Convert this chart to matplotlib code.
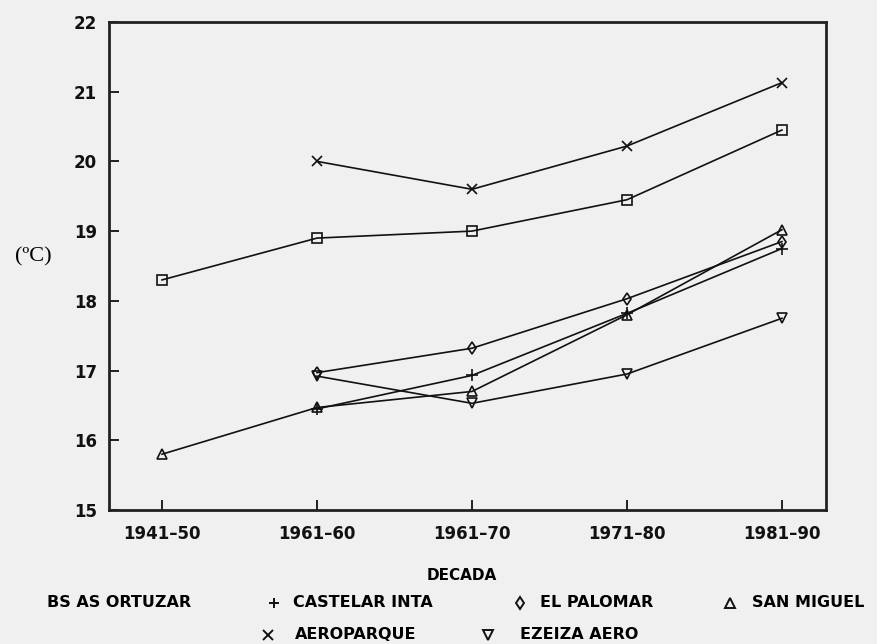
import numpy as np
import matplotlib
matplotlib.use("Agg")
import matplotlib.pyplot as plt
from matplotlib.lines import Line2D

decades = ["1941–50", "1961–60", "1961–70", "1971–80", "1981–90"]

# mean temperature per station (ºC), nan where the station had no record
bs_as_ortuzar = [18.3, 18.9, 19.0, 19.45, 20.45]
castelar_inta = [np.nan, 16.45, 16.93, 17.82, 18.75]
el_palomar = [np.nan, 16.97, 17.32, 18.03, 18.85]
san_miguel = [15.8, 16.47, 16.7, 17.8, 19.02]
aeroparque = [np.nan, 20.0, 19.6, 20.22, 21.13]
ezeiza_aero = [np.nan, 16.92, 16.53, 16.95, 17.75]

series = [
    ("BS AS ORTUZAR", bs_as_ortuzar, "s", 6.5),
    ("CASTELAR INTA", castelar_inta, "+", 8.5),
    ("EL PALOMAR", el_palomar, "d", 6),
    ("SAN MIGUEL", san_miguel, "^", 6.5),
    ("AEROPARQUE", aeroparque, "x", 7.5),
    ("EZEIZA AERO", ezeiza_aero, "v", 6.5),
]

plt.rcParams['font.family'] = ['DejaVu Sans']
plt.rcParams['font.weight'] = 'bold'

bg = "#f0f0f0"
fig = plt.figure(figsize=(8.77, 6.44), dpi=100, facecolor=bg)
ax = fig.add_axes([0.1243, 0.2081, 0.8175, 0.7578], facecolor=bg)

x = np.arange(len(decades))
for name, vals, mk, ms in series:
    ax.plot(x, vals, color="#111111", linewidth=1.2, marker=mk, markersize=ms,
            markerfacecolor="none", markeredgecolor="#111111", markeredgewidth=1.2)

ax.set_xlim(-0.342, 4.284)
ax.set_ylim(15, 22)
ax.set_xticks(x)
ax.set_xticklabels(decades)
ax.set_yticks(np.arange(15, 23))
ax.tick_params(axis="both", direction="in", length=7, width=1.3, colors="#111111",
               labelsize=12)
ax.tick_params(axis="x", pad=11)
ax.tick_params(axis="y", pad=8.5)
for sp in ax.spines.values():
    sp.set_linewidth(2)
    sp.set_color("#222222")

fig.text(0.038, 0.601, "(ºC)", family="Liberation Serif", fontweight="normal",
         fontsize=16, ha="center", va="center")
fig.text(0.526, 0.1056, "DECADA", fontsize=11, ha="center", va="center")

# legend, two rows of marker + label
legend_rows = [
    (None, 0.0, 0.0536, 0.0637, "BS AS ORTUZAR"),
    ("+", 0.3124, 0.334, 0.0637, "CASTELAR INTA"),
    ("d", 0.593, 0.6157, 0.0637, "EL PALOMAR"),
    ("^", 0.8324, 0.8575, 0.0637, "SAN MIGUEL"),
    ("x", 0.3056, 0.3364, 0.0140, "AEROPARQUE"),
    ("v", 0.5564, 0.593, 0.0140, "EZEIZA AERO"),
]
for mk, mx, tx, ly, label in legend_rows:
    if mk is not None:
        fig.add_artist(Line2D([mx], [ly], transform=fig.transFigure, marker=mk,
                              markersize=6.5, color="#111111", markerfacecolor="none",
                              markeredgewidth=1.4, linestyle="none"))
    fig.text(tx, ly, label, fontsize=11.5, ha="left", va="center")

fig.savefig("out.png", dpi=100, facecolor=bg)
